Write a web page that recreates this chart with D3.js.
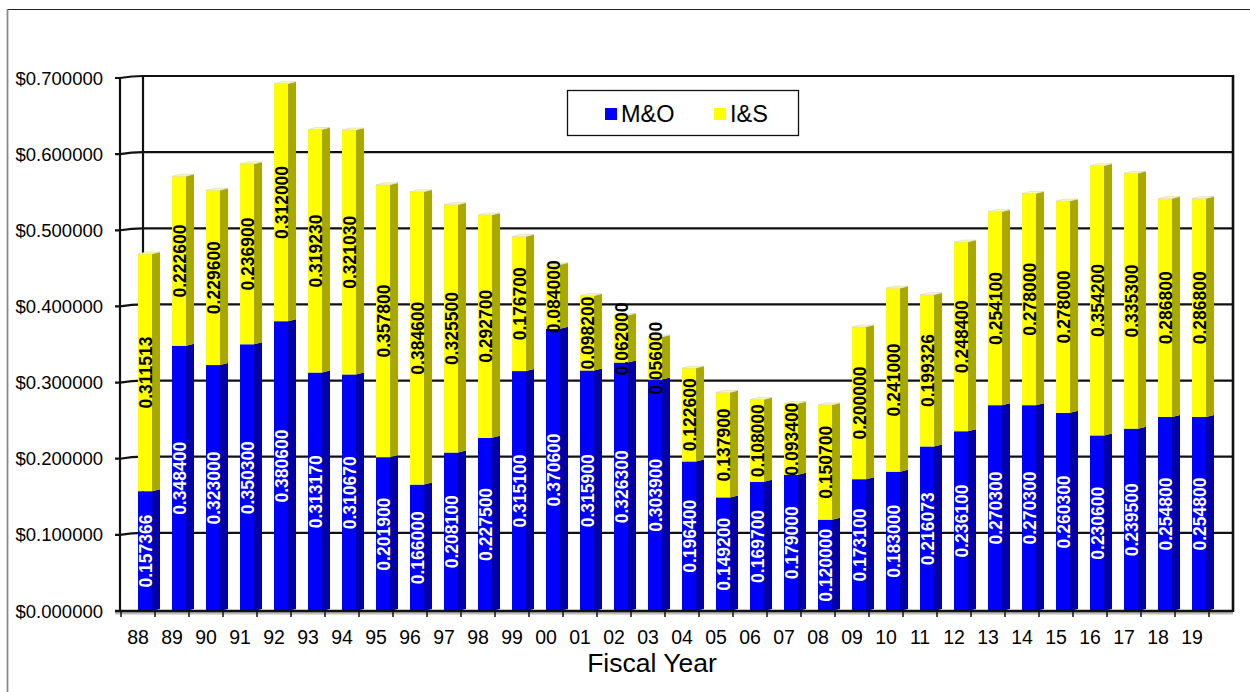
<!DOCTYPE html>
<html><head><meta charset="utf-8">
<script src="https://cdn.jsdelivr.net/npm/d3@7"></script>
<style>body{margin:0;background:#fff}svg{display:block}text{font-family:"Liberation Sans",Arial,sans-serif}</style>
</head><body><svg id="c" width="1250" height="692"></svg>
<script>
const years = ["88","89","90","91","92","93","94","95","96","97","98","99","00","01","02","03","04","05","06","07","08","09","10","11","12","13","14","15","16","17","18","19"];
const mo = [0.157366,0.348400,0.323000,0.350300,0.380600,0.313170,0.310670,0.201900,0.166000,0.208100,0.227500,0.315100,0.370600,0.315900,0.326300,0.303900,0.196400,0.149200,0.169700,0.179000,0.120000,0.173100,0.183000,0.216073,0.236100,0.270300,0.270300,0.260300,0.230600,0.239500,0.254800,0.254800];
const is = [0.311513,0.222600,0.229600,0.236900,0.312000,0.319230,0.321030,0.357800,0.384600,0.325500,0.292700,0.176700,0.084000,0.098200,0.062000,0.056000,0.122600,0.137900,0.108000,0.093400,0.150700,0.200000,0.241000,0.199326,0.248400,0.254100,0.278000,0.278000,0.354200,0.335300,0.286800,0.286800];
const yTicks = [0,0.1,0.2,0.3,0.4,0.5,0.6,0.7];
const seriesNames = ["M&O","I&S"];

const svg = d3.select("#c");
const x = d3.scaleBand().domain(years).range([121,1209]).padding(0);
const y = d3.scaleLinear().domain([0,0.7]).range([611,78]);
const fmt = d3.format(".6f");

// outer border
svg.append("path").attr("d","M7.5,700 V9.5 H1260").attr("fill","none").attr("stroke","#222").attr("stroke-width",1.2);
svg.append("line").attr("x1",7.5).attr("x2",7.5).attr("y1",9).attr("y2",700).attr("stroke","#888").attr("stroke-width",1.5);

const wallL = 120, wallB = 143, wallR = 1233;
// gridlines
const g = svg.append("g");
yTicks.forEach(v=>{
  const yy = y(v);
  if (v===0) {
    g.append("line").attr("x1",115).attr("x2",wallR).attr("y1",yy).attr("y2",yy).attr("stroke","#bbb").attr("stroke-width",4).attr("transform","translate(0,1.5)");
    return;
  }
  g.append("path").attr("d",`M115,${yy} L${wallL},${yy} Q${wallL+12},${yy-1.8} ${wallB},${yy-2} H${wallR}`)
    .attr("fill","none").attr("stroke","#111").attr("stroke-width",2.2);
});
g.append("line").attr("x1",wallB).attr("x2",wallB).attr("y1",y(0.7)-2).attr("y2",y(0)).attr("stroke","#111").attr("stroke-width",2.2);
g.append("line").attr("x1",wallR).attr("x2",wallR).attr("y1",y(0.7)-3).attr("y2",y(0)+1).attr("stroke","#111").attr("stroke-width",2.6);

// bars
const fw = 14, sw = 8, dy = 2;
const colors = {mo:{f:"#0000ff",s:"#0000a6",t:"#3333ff"}, is:{f:"#ffff00",s:"#a8a800",t:"#ffff99"}};
const bars = svg.append("g");
years.forEach((yr,i)=>{
  const x0 = x(yr)+17;
  const segs = [{v0:0,v1:mo[i],c:colors.mo,top:false},{v0:mo[i],v1:mo[i]+is[i],c:colors.is,top:true}];
  segs.forEach(s=>{
    const yt = y(s.v1), yb = y(s.v0);
    bars.append("rect").attr("x",x0).attr("y",yt).attr("width",fw).attr("height",yb-yt).attr("fill",s.c.f);
    bars.append("path").attr("d",`M${x0+fw},${yb} L${x0+fw},${yt} L${x0+fw+sw},${yt-dy} L${x0+fw+sw},${yb-dy}Z`).attr("fill",s.c.s);
    if (s.top) bars.append("path").attr("d",`M${x0},${yt} L${x0+fw},${yt} L${x0+fw+sw},${yt-dy} L${x0+sw},${yt-dy}Z`).attr("fill",s.c.t).attr("stroke","#ccc").attr("stroke-width",0.5);
  });
});

// bottom front line and left axis
svg.append("line").attr("x1",115).attr("x2",wallR).attr("y1",y(0)).attr("y2",y(0)).attr("stroke","#111").attr("stroke-width",2.4);
svg.append("line").attr("x1",wallL).attr("x2",wallL).attr("y1",y(0.7)).attr("y2",y(0)).attr("stroke","#111").attr("stroke-width",2.2);

// value labels
const lab = svg.append("g").attr("font-weight","bold").attr("font-size",17.5);
years.forEach((yr,i)=>{
  const cx = x(yr)+17+fw/2;
  const m1 = (y(0)+y(mo[i]))/2, m2 = (y(mo[i])+y(mo[i]+is[i]))/2;
  lab.append("text").attr("transform",`translate(${cx+6.5},${m1}) rotate(-90)`).attr("text-anchor","middle").attr("fill","#fff").text(fmt(mo[i]));
  lab.append("text").attr("transform",`translate(${cx+6.5},${m2}) rotate(-90)`).attr("text-anchor","middle").attr("fill","#000").text(fmt(is[i]));
});

// y axis labels
const ya = svg.append("g").attr("font-size",18.5).attr("fill","#000");
yTicks.forEach(v=>{
  ya.append("text").attr("x",103).attr("y",y(v)+6.5).attr("text-anchor","end").text("$"+fmt(v));
});

// x axis ticks and labels
const xa = svg.append("g");
years.concat([null]).forEach((yr,i)=>{
  const xx = 121 + i*x.bandwidth();
  xa.append("line").attr("x1",xx).attr("x2",xx).attr("y1",y(0)).attr("y2",y(0)+6).attr("stroke","#111").attr("stroke-width",1.5);
});
years.forEach(yr=>{
  xa.append("text").attr("x",x(yr)+x.bandwidth()/2).attr("y",644).attr("text-anchor","middle").attr("font-size",19.5).text(yr);
});
svg.append("text").attr("x",652).attr("y",672).attr("text-anchor","middle").attr("font-size",26.5).text("Fiscal Year");

// legend
const lg = svg.append("g");
lg.append("rect").attr("x",567.5).attr("y",90.5).attr("width",231).attr("height",45).attr("fill","#fff").attr("stroke","#111").attr("stroke-width",1.3);
const lx = [605,714];
seriesNames.forEach((n,i)=>{
  lg.append("rect").attr("x",lx[i]).attr("y",108).attr("width",12).attr("height",12).attr("fill",i===0?colors.mo.f:colors.is.f);
  lg.append("text").attr("x",lx[i]+16).attr("y",122).attr("font-size",23.5).text(n);
});
</script></body></html>
